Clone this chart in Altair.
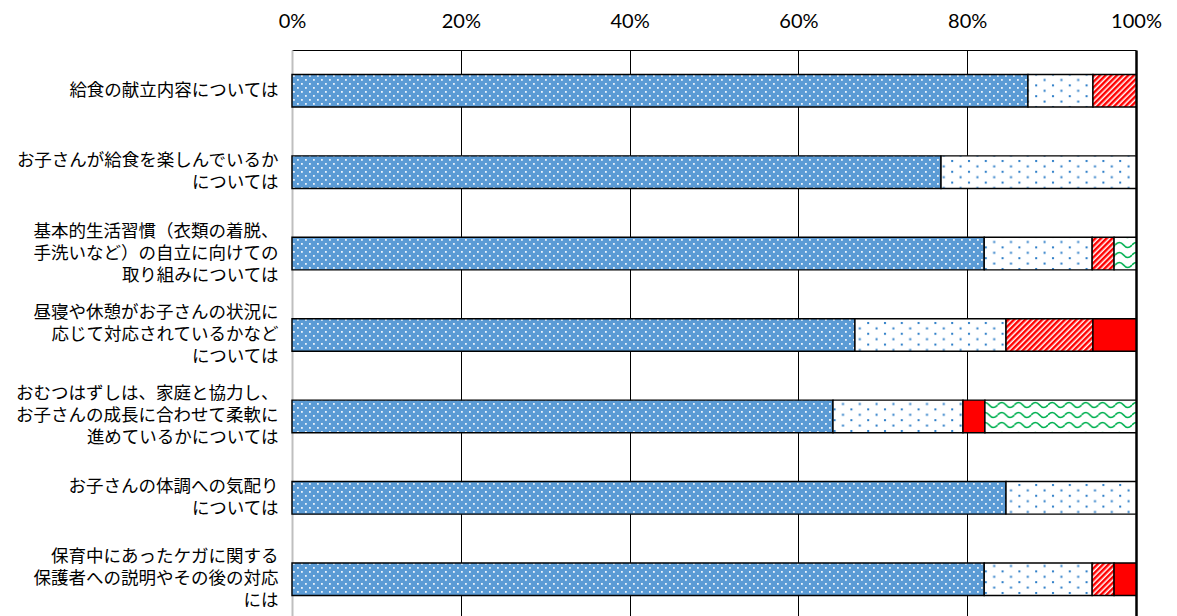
import altair as alt
import pandas as pd
import jinja2

NB = "\u00a0"  # no-break space (does not hang at line end), used to centre short lines

categories = [
    "給食の献立内容については",
    "お子さんが給食を楽しんでいるか\nについては" + NB * 22,
    "基本的生活習慣（衣類の着脱、\n手洗いなど）の自立に向けての\n取り組みについては" + NB * 11,
    "昼寝や休憩がお子さんの状況に\n応じて対応されているかなど" + NB * 2 + "\nについては" + NB * 20,
    "おむつはずしは、家庭と協力し、\nお子さんの成長に合わせて柔軟に\n進めているかについては" + NB * 9,
    "お子さんの体調への気配り\nについては" + NB * 16,
    "保育中にあったケガに関する" + NB * 2 + "\n保護者への説明やその後の対応\nには" + NB * 27,
]

series = ["満足", "どちらかといえば満足", "どちらかといえば不満", "不満", "無回答"]

satisfied           = [87.2, 76.9, 82.1, 66.7, 64.1, 84.6, 82.1]
rather_satisfied    = [7.7, 23.1, 12.8, 17.9, 15.4, 15.4, 12.8]
rather_dissatisfied = [5.1, 0.0, 2.6, 10.3, 0.0, 0.0, 2.6]
dissatisfied        = [0.0, 0.0, 0.0, 5.1, 2.6, 0.0, 2.6]
no_answer           = [0.0, 0.0, 2.6, 0.0, 17.9, 0.0, 0.0]

tick_values = [0, 0.2, 0.4, 0.6, 0.8, 1.0]

values_by_series = [satisfied, rather_satisfied, rather_dissatisfied, dissatisfied, no_answer]
rows = []
for si, (name, vals) in enumerate(zip(series, values_by_series)):
    for cat, v in zip(categories, vals):
        if v > 0:
            rows.append({"category": cat, "series": name, "value": v, "idx": si})
df = pd.DataFrame(rows)

fills = [
    "url(#pBlue) #5B9BD5",
    "url(#pDots) #F2F7FC",
    "url(#pHatch) #FF7F7F",
    "#FF0000",
    "url(#pWave) #E6F5EC",
]

bars = alt.Chart(df).mark_bar(stroke="#000000", strokeWidth=1.4).encode(
    x=alt.X(
        "value:Q",
        stack="normalize",
        scale=alt.Scale(domain=[0, 1]),
        title=None,
        axis=alt.Axis(
            orient="top",
            values=tick_values,
            format=".0%",
            labelFlush=False,
            ticks=False,
            tickSize=0,
            labelPadding=23,
            labelBaseline="alphabetic",
            labelFont="Lato",
            labelFontSize=20,
            labelColor="#000000",
            domainColor="#000000",
            domainWidth=1.2,
            grid=True,
            gridColor={"condition": {"test": "datum.value === 0", "value": "#BFBFBF"}, "value": "#000000"},
            gridWidth={"condition": {"test": "datum.value === 1", "value": 2.5}, "value": 1},
        ),
    ),
    y=alt.Y(
        "category:N",
        sort=categories,
        title=None,
        scale=alt.Scale(paddingInner=0.6, paddingOuter=0.3),
        axis=alt.Axis(
            ticks=False,
            domainColor="#BFBFBF",
            domainWidth=2,
            labelExpr="split(datum.label, '\\n')",
            labelFont="Noto Sans CJK JP",
            labelFontSize=17.5,
            labelLineHeight=22,
            labelAlign="right",
            labelBaseline={"condition": {"test": "indexof(datum.value, '\\n') >= 0", "value": "line-bottom"}, "value": "middle"},
            labelOffset={"condition": {"test": "length(split(datum.value, '\\n')) === 3", "value": -11}, "value": 0},
            labelPadding=14,
            labelLimit=500,
            labelColor="#000000",
        ),
    ),
    fill=alt.Fill("series:N", scale=alt.Scale(domain=series, range=fills), legend=None),
    order=alt.Order("idx:Q"),
)

chart = bars.properties(
    width=844,
    height=570,
    autosize=alt.AutoSizeParams(type="none"),
    padding={"left": 292, "top": 50, "right": 41, "bottom": 5},
    background="#FFFFFF",
).configure_view(stroke=None)

TEMPLATE = jinja2.Template("""<!DOCTYPE html>
<html>
<head>
  <meta charset="utf-8">
  <style>
    body { margin: 0; }
    #{{ output_div }}.vega-embed { width: 100%; display: flex; }
    #{{ output_div }}.vega-embed details,
    #{{ output_div }}.vega-embed details summary { position: relative; }
  </style>
  <script type="text/javascript" src="{{ base_url }}/vega@{{ vega_version }}"></script>
  <script type="text/javascript" src="{{ base_url }}/vega-lite@{{ vegalite_version }}"></script>
  <script type="text/javascript" src="{{ base_url }}/vega-embed@{{ vegaembed_version }}"></script>
</head>
<body>
  <svg width="0" height="0" style="position:absolute;left:0;top:0" aria-hidden="true">
    <defs>
      <pattern id="pBlue" patternUnits="userSpaceOnUse" width="8" height="8">
        <rect width="8" height="8" fill="#5B9BD5"/>
        <rect x="1" y="1" width="1.8" height="1.8" fill="#EAF2FB"/>
        <rect x="5" y="5" width="1.8" height="1.8" fill="#EAF2FB"/>
      </pattern>
      <pattern id="pDots" patternUnits="userSpaceOnUse" width="16.8" height="10.8">
        <rect width="16.8" height="10.8" fill="#FFFFFF"/>
        <rect x="4" y="2" width="2" height="2" fill="#2A7CC7"/>
        <rect x="12.4" y="7.4" width="2" height="2" fill="#2A7CC7"/>
      </pattern>
      <pattern id="pHatch" patternUnits="userSpaceOnUse" width="4" height="4" patternTransform="rotate(45)">
        <rect width="4" height="4" fill="#FFFFFF"/>
        <rect width="2.5" height="4" fill="#FF0000"/>
      </pattern>
      <pattern id="pWave" patternUnits="userSpaceOnUse" width="16.8" height="10">
        <rect width="16.8" height="10" fill="#FFFFFF"/>
        <path d="M0,5 Q4.2,0 8.4,5 T16.8,5" fill="none" stroke="#00B050" stroke-width="1.7"/>
      </pattern>
    </defs>
  </svg>
  <div id="{{ output_div }}"></div>
  <script>
    (function(vegaEmbed) {
      var spec = {{ spec }};
      var embedOpt = {{ embed_options }};
      function showError(el, error){
        el.innerHTML = ('<div style="color:red;"><p>JavaScript Error: ' + error.message + '</p></div>');
        throw error;
      }
      const el = document.getElementById('{{ output_div }}');
      vegaEmbed("#{{ output_div }}", spec, embedOpt).catch(error => showError(el, error));
    })(vegaEmbed);
  </script>
</body>
</html>
""")

chart.save("out.html", embed_options={"renderer": "svg", "actions": False}, template=TEMPLATE)
